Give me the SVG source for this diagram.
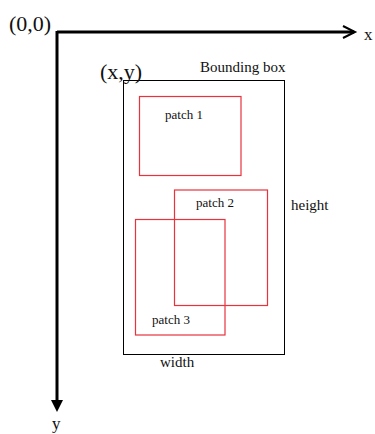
<svg xmlns="http://www.w3.org/2000/svg" width="375" height="434" viewBox="0 0 375 434">
<style>
text{font-family:"Liberation Serif","Times New Roman",serif;fill:#111}
.big{font-size:22px}
.lbl{font-size:15px}
.p{font-size:13px}
.patch{fill:none;stroke:#e8323c;stroke-width:1.2}
.ax{stroke:#000;stroke-width:3;fill:none}
</style>
<rect width="375" height="434" fill="#fff"/>
<g id="connectors">
<line class="ax" x1="57" y1="32" x2="354" y2="32"/>
<polyline points="343,26 355,32 343,38" fill="none" stroke="#000" stroke-width="2"/>
<line class="ax" x1="57" y1="31" x2="57" y2="402"/>
<polygon points="51,400 63,400 57,412" fill="#000"/>
</g>
<g id="origin"><text class="big" x="9" y="31">(0,0)</text></g>
<g id="xlabel"><text class="lbl" x="364" y="40" style="font-size:17px">x</text></g>
<g id="ylabel"><text class="lbl" x="52" y="429" style="font-size:17px">y</text></g>
<g id="bbox">
<rect x="123.5" y="80.5" width="161" height="274" fill="none" stroke="#000" stroke-width="1"/>
<text class="big" x="100" y="79">(x,y)</text>
<text class="lbl" x="200" y="72">Bounding box</text>
<text class="lbl" x="291" y="210">height</text>
<text class="lbl" x="160" y="367">width</text>
</g>
<g id="patch1">
<rect class="patch" x="139.5" y="96.5" width="101.5" height="79"/>
<text class="p" x="165" y="119">patch 1</text>
</g>
<g id="patch2">
<rect class="patch" x="174.5" y="190" width="93" height="115.5"/>
<text class="p" x="196" y="207">patch 2</text>
</g>
<g id="patch3">
<rect class="patch" x="135.5" y="219.5" width="89.5" height="115.5"/>
<text class="p" x="152" y="324">patch 3</text>
</g>
</svg>
